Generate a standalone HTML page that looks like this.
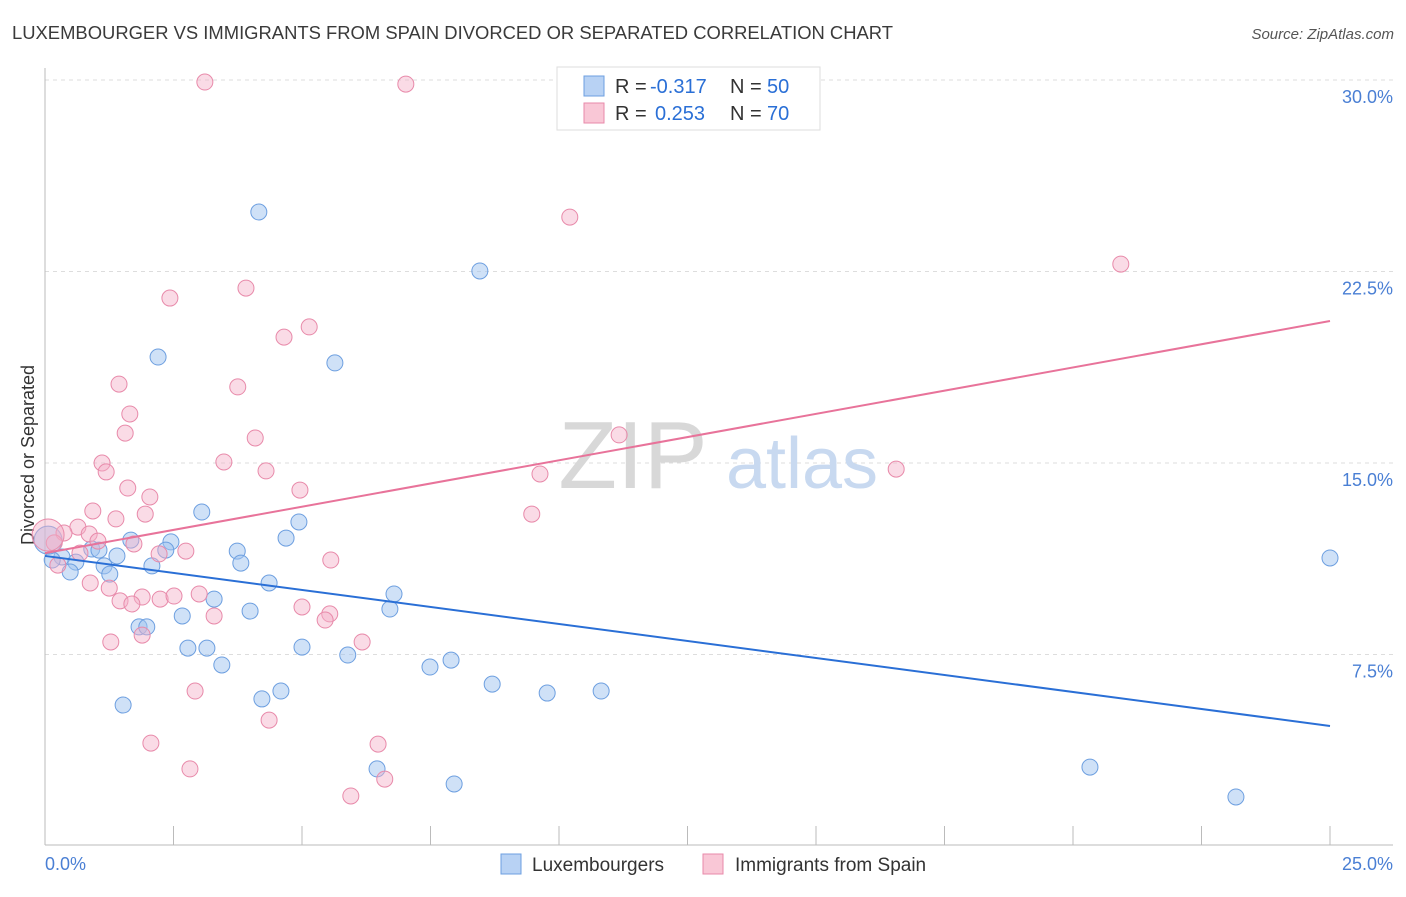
<!DOCTYPE html>
<html><head><meta charset="utf-8"><style>
body{margin:0;background:#fff;font-family:"Liberation Sans",sans-serif;}
svg text{font-family:"Liberation Sans",sans-serif;}
</style></head><body>
<svg id="chart" width="1406" height="892" viewBox="0 0 1406 892" xmlns="http://www.w3.org/2000/svg">
<text x="12" y="39" font-size="18" textLength="881" lengthAdjust="spacingAndGlyphs" fill="#3a3a3a">LUXEMBOURGER VS IMMIGRANTS FROM SPAIN DIVORCED OR SEPARATED CORRELATION CHART</text>
<text x="1394" y="39" font-size="15" fill="#555" font-style="italic" text-anchor="end">Source: ZipAtlas.com</text>
<g id="grid"></g>
<g id="axes"></g>
<text x="633" y="488" font-size="96" fill="#d8d8d8" font-family="Liberation Serif" text-anchor="middle">ZIP</text>
<text x="802" y="488" font-size="72" fill="#c8d9f0" text-anchor="middle">atlas</text>
<text transform="translate(34,455) rotate(-90)" font-size="18" fill="#333" text-anchor="middle">Divorced or Separated</text>
<g id="pts"></g>
<g id="lines"></g>
<g>
<rect x="557" y="67" width="263" height="63" fill="#fff" stroke="#ddd"/>
<rect x="584" y="76" width="20" height="20" fill="#b8d2f4" stroke="#6d9fe0"/>
<rect x="584" y="103" width="20" height="20" fill="#f9c7d6" stroke="#e88aaa"/>
<text x="615" y="93" font-size="20" fill="#333">R = <tspan fill="#2a6fd6" x="650">-0.317</tspan><tspan x="730">N = </tspan><tspan fill="#2a6fd6" x="767">50</tspan></text>
<text x="615" y="120" font-size="20" fill="#333">R = <tspan fill="#2a6fd6" x="655">0.253</tspan><tspan x="730">N = </tspan><tspan fill="#2a6fd6" x="767">70</tspan></text>
</g>
<g>
<rect x="501" y="854" width="20" height="20" fill="#b8d2f4" stroke="#6d9fe0"/>
<text x="532" y="871" font-size="19" fill="#333">Luxembourgers</text>
<rect x="703" y="854" width="20" height="20" fill="#f9c7d6" stroke="#e88aaa"/>
<text x="735" y="871" font-size="19" fill="#333">Immigrants from Spain</text>
</g>
</svg>
<script>
const yTicks=[7.5,15.0,22.5,30.0];
const yTickLabels=["7.5%","15.0%","22.5%","30.0%"];
const xTicks=[0,2.5,5,7.5,10,12.5,15,17.5,20,22.5,25];
const blueX=[4.16,8.46,2.20,5.64,3.05,4.94,4.69,2.45,1.67,2.35,3.74,1.40,0.91,1.05,0.33,0.14,0.60,1.15,2.08,3.81,0.49,1.26,4.36,6.79,3.29,6.71,3.99,2.67,1.83,1.98,2.78,3.15,5.00,5.89,3.44,7.90,7.49,8.70,9.77,10.82,4.59,4.22,1.52,6.46,7.96,20.33,23.17,25.0,0.06];
const blueY=[24.83,22.52,19.15,18.92,13.08,12.69,12.06,11.91,11.98,11.59,11.55,11.36,11.63,11.59,11.32,11.20,11.12,10.97,10.97,11.08,10.73,10.65,10.30,9.87,9.67,9.28,9.20,9.01,8.58,8.58,7.75,7.75,7.79,7.48,7.09,7.28,7.01,6.34,5.99,6.07,6.07,5.76,5.52,3.02,2.43,3.09,1.92,11.28,11.98];
const pinkX=[3.11,7.02,10.21,20.93,2.43,3.91,5.14,4.65,1.44,3.75,1.65,1.56,4.09,11.17,3.48,1.11,1.19,4.30,9.63,16.56,1.61,2.04,4.96,0.93,1.95,1.38,9.47,0.64,0.37,0.86,1.03,1.73,2.74,2.22,5.56,0.18,0.25,0.68,0.88,1.25,1.89,2.24,2.51,3.00,1.46,1.69,5.00,5.54,5.45,3.29,1.28,1.89,6.17,2.92,4.36,2.06,6.48,2.82,6.61,5.95,0.06];
const pinkY=[29.92,29.84,24.63,22.79,21.46,21.85,20.33,19.93,18.09,17.98,16.92,16.17,15.98,16.10,15.04,15.00,14.65,14.69,14.57,14.76,14.02,13.67,13.94,13.12,13.00,12.81,13.00,12.49,12.26,12.22,11.94,11.83,11.55,11.44,11.20,11.87,11.00,11.47,10.30,10.10,9.75,9.67,9.79,9.87,9.60,9.48,9.36,9.09,8.85,9.01,7.99,8.26,7.99,6.07,4.93,4.03,3.99,3.02,2.62,1.96,12.18];
const blueTrend=[11.36,4.70];
const pinkTrend=[11.47,20.56];
const NS="http://www.w3.org/2000/svg";
const xs=v=>45+v*(1285/25);
const ys=v=>846-v*(191.5/7.5);
function mk(tag,attrs,parent){const e=document.createElementNS(NS,tag);for(const k in attrs)e.setAttribute(k,attrs[k]);parent.appendChild(e);return e;}
const grid=document.getElementById('grid'),axes=document.getElementById('axes');
yTicks.forEach((t,i)=>{
 const l=mk('line',{x1:45,x2:1393,y1:ys(t),y2:ys(t),stroke:'#ddd','stroke-dasharray':'4,4'},grid);
 
 
 const tx=mk('text',{x:1393,y:ys(t)+23,'font-size':18,fill:'#4a7fd4','text-anchor':'end'},axes);
 tx.textContent=yTickLabels[i];
 
 
});
let a=mk('line',{x1:45,x2:45,y1:68,y2:845,stroke:'#bbb'},axes);


a=mk('line',{x1:45,x2:1393,y1:845,y2:845,stroke:'#bbb'},axes);


xTicks.forEach(t=>{
 const l=mk('line',{x1:xs(t),x2:xs(t),y1:826,y2:845,stroke:'#bbb'},axes);
 
 
});
let t0=mk('text',{x:45,y:870,'font-size':18,fill:'#4a7fd4'},axes);t0.textContent='0.0%';


let t1=mk('text',{x:1393,y:870,'font-size':18,fill:'#4a7fd4','text-anchor':'end'},axes);t1.textContent='25.0%';


const pts=document.getElementById('pts');
blueX.forEach((x,i)=>{
 const last=i===blueX.length-1;
 const c=mk('circle',{cx:xs(x),cy:ys(blueY[i]),r:last?14:8,fill:'rgba(160,195,240,0.5)',stroke:'#6d9fe0','stroke-width':1},pts);
 
 
});
pinkX.forEach((x,i)=>{
 const last=i===pinkX.length-1;
 const c=mk('circle',{cx:xs(x),cy:ys(pinkY[i]),r:last?16:8,fill:'rgba(245,175,200,0.45)',stroke:'#e88aaa','stroke-width':1},pts);
 
 
});
const lines=document.getElementById('lines');
let bl=mk('line',{x1:xs(0),y1:ys(blueTrend[0]),x2:xs(25),y2:ys(blueTrend[1]),stroke:'#2a6fd6','stroke-width':2},lines);


let pl=mk('line',{x1:xs(0),y1:ys(pinkTrend[0]),x2:xs(25),y2:ys(pinkTrend[1]),stroke:'#e8739a','stroke-width':2},lines);


</script>
</body></html>
